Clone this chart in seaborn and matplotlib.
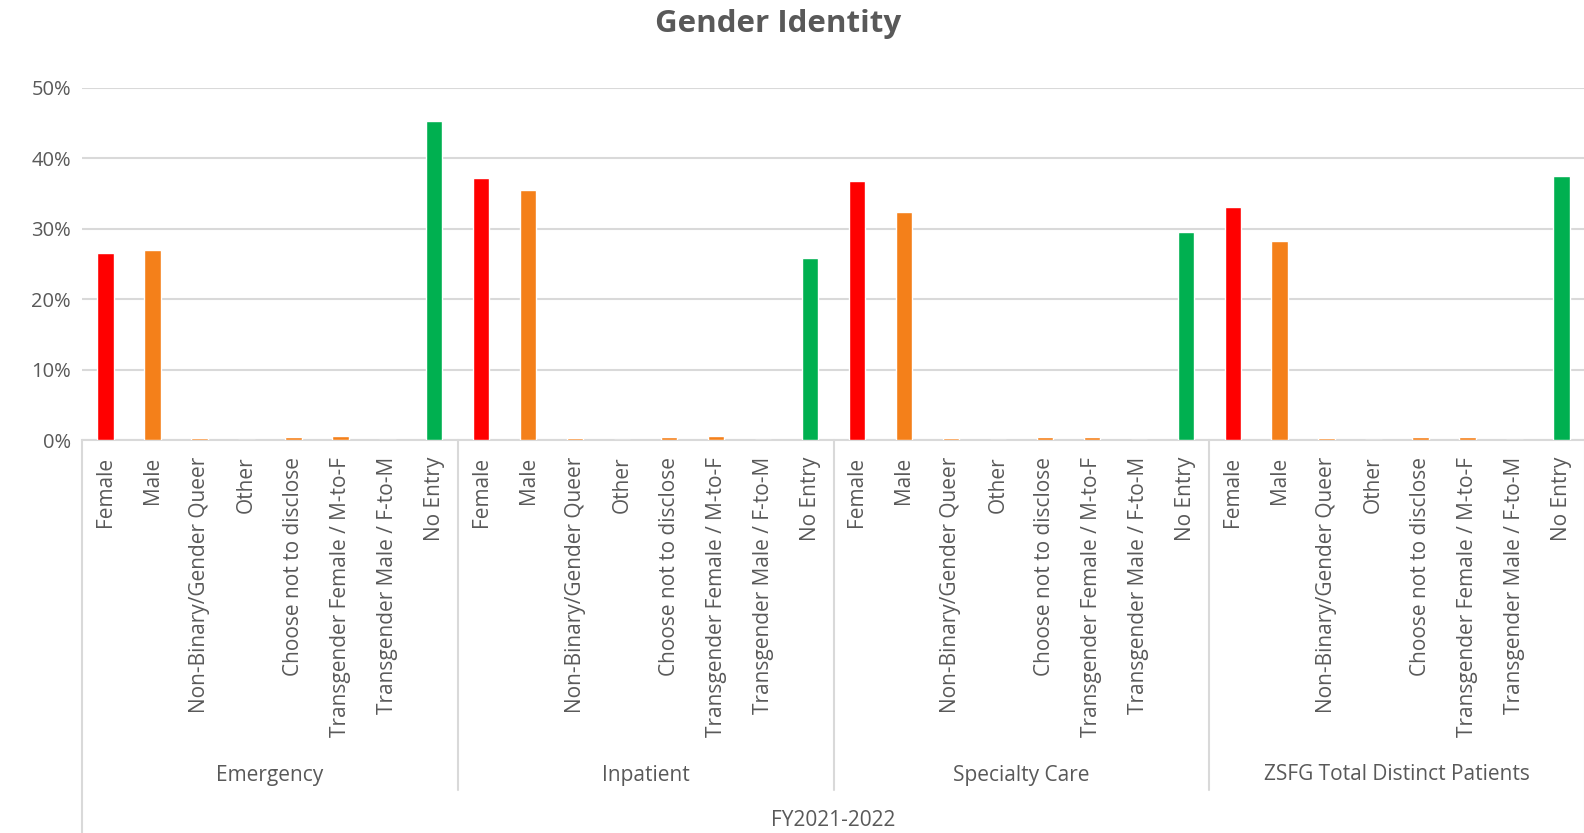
import matplotlib
matplotlib.use("Agg")
import matplotlib.pyplot as plt
import matplotlib.transforms as mtransforms
import seaborn as sns
import pandas as pd
import numpy as np

groups = ["Emergency", "Inpatient", "Specialty Care", "ZSFG Total Distinct Patients"]
categories = ["Female", "Male", "Non-Binary/Gender Queer", "Other", "Choose not to disclose",
              "Transgender Female / M-to-F", "Transgender Male / F-to-M", "No Entry"]
emergency = [26.5, 27.0, 0.3, 0.0, 0.4, 0.5, 0.0, 45.3]
inpatient = [37.2, 35.5, 0.25, 0.0, 0.4, 0.62, 0.0, 25.9]
specialty = [36.7, 32.4, 0.22, 0.0, 0.45, 0.45, 0.0, 29.5]
zsfg = [33.1, 28.2, 0.25, 0.0, 0.38, 0.45, 0.0, 37.5]
super_label = "FY2021-2022"
yticks = [0, 10, 20, 30, 40, 50]

cat_colors = {"Female": "#FF0000", "No Entry": "#00B050"}
other_color = "#F4801A"
text_color = "#595959"

rows = []
for g, vals in zip(groups, [emergency, inpatient, specialty, zsfg]):
    for c, v in zip(categories, vals):
        rows.append({"key": f"{g}|{c}", "group": g, "cat": c, "value": v / 100.0})
df = pd.DataFrame(rows)
palette = {k: cat_colors.get(c, other_color) for k, c in zip(df["key"], df["cat"])}

sns.set_theme(style="white")
plt.rcParams["font.family"] = ["Open Sans", "DejaVu Sans"]

W, H = 1584, 833
fig = plt.figure(figsize=(W / 100, H / 100), dpi=100)
left_px, right_px, y0_px, y50_px = 82, 1585, 440, 87.7
ax = fig.add_axes([left_px / W, 1 - y0_px / H, (right_px - left_px) / W, (y0_px - y50_px) / H])

sns.barplot(data=df, x="key", y="value", hue="key", palette=palette, legend=False,
            width=0.35, ax=ax, saturation=1, order=list(df["key"]), zorder=3)

ax.set_ylim(0, 0.5)
ax.set_xlim(-0.5, len(df) - 0.5)
ax.set_yticks([t / 100 for t in yticks])
ax.set_yticklabels([f"{t}%" for t in yticks], fontsize=14.5, color=text_color)
ax.yaxis.grid(True, color="#D9D9D9", linewidth=1.5)
ax.set_axisbelow(True)
for s in ["top", "right", "left"]:
    ax.spines[s].set_visible(False)
ax.spines["bottom"].set_color("#D9D9D9")
ax.spines["bottom"].set_linewidth(1.5)
ax.spines["bottom"].set_zorder(2.5)
ax.set_xticks(range(len(df)))
ax.set_xticklabels(list(df["cat"]), rotation=90, fontsize=15, color=text_color, va="top")
ax.tick_params(axis="x", length=0, pad=12)
ax.tick_params(axis="y", length=0, pad=8)
ax.set_xlabel("")
ax.set_ylabel("")

trans = mtransforms.blended_transform_factory(ax.transData, fig.transFigure)
n = len(categories)
y_axis_fig = 1 - y0_px / H
y_sep_bottom = 1 - 790 / H
for i in range(len(groups) + 1):
    xb = i * n - 0.5
    ybot = 0 if i in (0, len(groups)) else y_sep_bottom
    ax.add_line(plt.Line2D([xb, xb], [y_axis_fig, ybot], transform=trans, color="#D9D9D9",
                           linewidth=1.5, clip_on=False))
for i, g in enumerate(groups):
    ax.text(i * n + (n - 1) / 2, 1 - 775 / H, g, transform=trans, ha="center", va="center",
            fontsize=15, color=text_color)
ax.text((len(df) - 1) / 2, 1 - 821 / H, super_label, transform=trans, ha="center", va="center",
        fontsize=15, color=text_color)

fig.text(778 / W, 1 - 24 / H, "Gender Identity", ha="center", va="center", fontsize=22.5,
         fontweight="bold", color=text_color)

fig.savefig("out.png", dpi=100)
